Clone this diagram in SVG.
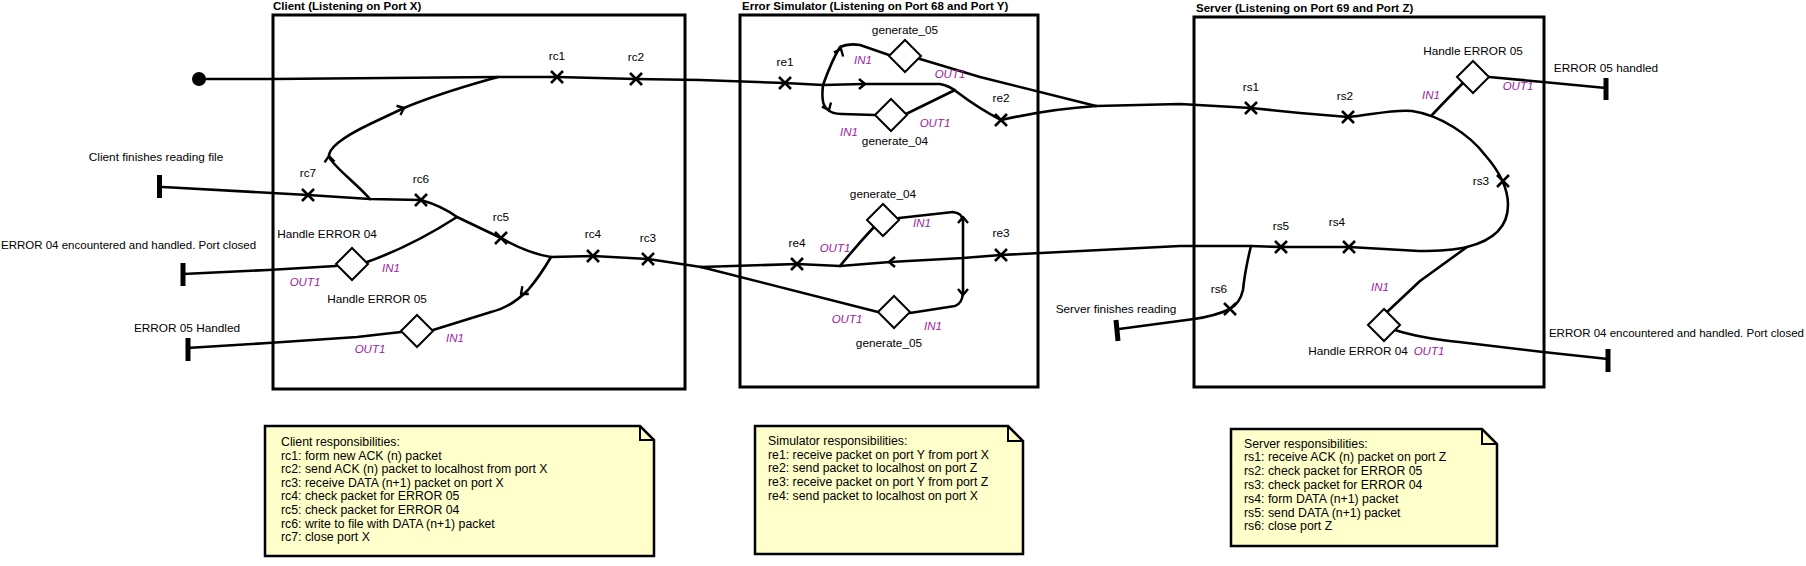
<svg xmlns="http://www.w3.org/2000/svg" xmlns:xlink="http://www.w3.org/1999/xlink" width="1806" height="566" viewBox="0 0 1806 566">
<style>
  .box{fill:none;stroke:#000;stroke-width:3}
  .title{font-family:"Liberation Sans",Arial,sans-serif;font-size:11.5px;font-weight:bold;fill:#000}
  .lbl{font-family:"Liberation Sans",Arial,sans-serif;font-size:11.8px;fill:#000}
  .long{font-size:11.5px}
  .port{font-family:"Liberation Sans",Arial,sans-serif;font-size:11.5px;font-style:italic;fill:#a020a0}
  .conn path{fill:none;stroke:#000;stroke-width:2.6;stroke-linejoin:round;stroke-linecap:round}
  .bar{stroke:#000;stroke-width:5}
  .note{fill:#ffffcc;stroke:#000;stroke-width:2.5}
  .fold{fill:none;stroke:#000;stroke-width:2}
  .ntext{font-family:"Liberation Sans",Arial,sans-serif;font-size:12.3px;fill:#000}
</style>
<defs>
  <path id="xm" d="M-6,-6 L6,6 M-6,6 L6,-6" fill="none" stroke="#000" stroke-width="2.6"/>
  <path id="chev" d="M-6,-5 L0,0 L-6,5" fill="none" stroke="#000" stroke-width="2.4" stroke-linejoin="round"/>
  <path id="dia" d="M-16,0 L0,-16 L16,0 L0,16 Z" fill="#fff" stroke="#000" stroke-width="2"/>
</defs>
<rect width="1806" height="566" fill="#fff"/>

<g id="client">
  <rect class="box" x="273" y="15" width="412" height="374"/>
  <text class="title" x="273" y="10">Client (Listening on Port X)</text>
</g>
<g id="errorsim">
  <rect class="box" x="740" y="15" width="298" height="372"/>
  <text class="title" x="742" y="10">Error Simulator (Listening on Port 68 and Port Y)</text>
</g>
<g id="server">
  <rect class="box" x="1194" y="17" width="350" height="370"/>
  <text class="title" x="1196" y="12">Server (Listening on Port 69 and Port Z)</text>
</g>

<g id="connectors" class="conn">
  <path d="M199,79 L273,79 L498,77 L557,77 L636,79 L700,80 L785,83 L823,85"/>
  <path d="M370,199 C355,182 335,168 329,157 C328,148 345,136 370,124 L404,108 C440,93 470,85 498,77"/>
  <path d="M163,187 L308,195 L370,199 L421,200"/>
  <path d="M421,200 Q442,206 457,217 L501,238 Q527,253 551,257 L593,256 L648,259 L701,267"/>
  <path d="M457,217 Q412,246 367,262"/>
  <path d="M336,266 L268,270 L183,274"/>
  <path d="M551,257 Q540,276 528,290 Q510,308 491,312 L433,330"/>
  <path d="M401,332 L357,337 L268,343 L187,348"/>
  <path d="M823,85 Q832,60 840,47 Q848,43 860,45 L889,55"/>
  <path d="M920,59 L980,77 L1096,106"/>
  <path d="M823,85 L863,84 L940,84 Q950,86 957,92 Q978,108 1001,120 Q1050,109 1096,106"/>
  <path d="M823,85 Q821,103 826,108 Q831,114 842,114 L875,115"/>
  <path d="M906,114 L955,90"/>
  <path d="M1096,106 L1180,104 L1251,108 L1300,113 L1348,117 C1370,115 1395,109 1412,111 C1440,115 1470,135 1485,155 C1500,172 1508,190 1508,205 C1508,225 1495,240 1467,247 C1450,251 1435,251 1419,251 L1349,247 L1281,247 L1251,246 L1180,246 L1001,255 L963,258 L890,262 L840,266 L797,264 L701,267"/>
  <path d="M874,227 Q858,244 840,266"/>
  <path d="M899,218 L953,212 Q963,213 963,222 L963,293 Q962,304 955,306 L910,313"/>
  <path d="M878,312 L701,267"/>
  <path d="M1251,246 Q1245,270 1243,290 Q1240,303 1230,309 Q1215,316 1194,319 L1119,329"/>
  <path d="M1432,115 Q1450,96 1463,83"/>
  <path d="M1489,77 L1543,82 L1606,88"/>
  <path d="M1467,247 L1420,281 L1387,312"/>
  <path d="M1395,330 Q1420,338 1459,342 L1543,352 L1608,359"/>
  <use xlink:href="#chev" transform="translate(404,108) rotate(-23)"/>
  <use xlink:href="#chev" transform="translate(329,156) rotate(-95)"/>
  <use xlink:href="#chev" transform="translate(841,49) rotate(-66)"/>
  <use xlink:href="#chev" transform="translate(865,84) rotate(0)"/>
  <use xlink:href="#chev" transform="translate(829,110) rotate(65)"/>
  <use xlink:href="#chev" transform="translate(889,262) rotate(180)"/>
  <use xlink:href="#chev" transform="translate(963,217) rotate(-90)"/>
  <use xlink:href="#chev" transform="translate(963,295) rotate(90)"/>
  <use xlink:href="#chev" transform="translate(521,294) rotate(140)"/>
</g>

<g id="start"><circle cx="199" cy="79" r="7" fill="#000"/></g>

<g id="bar-client-finish"><line class="bar" x1="159.5" y1="175" x2="159.5" y2="198"/>
  <text class="lbl" x="156" y="161" text-anchor="middle">Client finishes reading file</text></g>
<g id="bar-client-e04"><line class="bar" x1="183" y1="263" x2="183" y2="286"/>
  <text class="lbl long" x="1" y="249">ERROR 04 encountered and handled. Port closed</text></g>
<g id="bar-client-e05"><line class="bar" x1="188" y1="338" x2="188" y2="361"/>
  <text class="lbl" x="187" y="332" text-anchor="middle">ERROR 05 Handled</text></g>
<g id="bar-server-finish"><line class="bar" x1="1116" y1="320" x2="1118" y2="341"/>
  <text class="lbl" x="1116" y="313" text-anchor="middle">Server finishes reading</text></g>
<g id="bar-server-e05"><line class="bar" x1="1606" y1="78" x2="1606" y2="100"/>
  <text class="lbl" x="1606" y="72" text-anchor="middle">ERROR 05 handled</text></g>
<g id="bar-server-e04"><line class="bar" x1="1608" y1="349" x2="1608" y2="372"/>
  <text class="lbl long" x="1804" y="337" text-anchor="end">ERROR 04 encountered and handled. Port closed</text></g>

<g id="rc1"><use xlink:href="#xm" x="557" y="77"/><text class="lbl" x="557" y="60" text-anchor="middle">rc1</text></g>
<g id="rc2"><use xlink:href="#xm" x="636" y="79"/><text class="lbl" x="636" y="61" text-anchor="middle">rc2</text></g>
<g id="rc3"><use xlink:href="#xm" x="648" y="259"/><text class="lbl" x="648" y="242" text-anchor="middle">rc3</text></g>
<g id="rc4"><use xlink:href="#xm" x="593" y="256"/><text class="lbl" x="593" y="238" text-anchor="middle">rc4</text></g>
<g id="rc5"><use xlink:href="#xm" x="501" y="238"/><text class="lbl" x="501" y="221" text-anchor="middle">rc5</text></g>
<g id="rc6"><use xlink:href="#xm" x="421" y="200"/><text class="lbl" x="421" y="183" text-anchor="middle">rc6</text></g>
<g id="rc7"><use xlink:href="#xm" x="308" y="195"/><text class="lbl" x="308" y="177" text-anchor="middle">rc7</text></g>

<g id="c-handle04"><use xlink:href="#dia" x="352" y="264"/>
  <text class="lbl" x="327" y="238" text-anchor="middle">Handle ERROR 04</text>
  <text class="port" x="391" y="272" text-anchor="middle">IN1</text>
  <text class="port" x="305" y="286" text-anchor="middle">OUT1</text></g>
<g id="c-handle05"><use xlink:href="#dia" x="417" y="331"/>
  <text class="lbl" x="377" y="303" text-anchor="middle">Handle ERROR 05</text>
  <text class="port" x="455" y="342" text-anchor="middle">IN1</text>
  <text class="port" x="370" y="353" text-anchor="middle">OUT1</text></g>

<g id="re1"><use xlink:href="#xm" x="785" y="83"/><text class="lbl" x="785" y="66" text-anchor="middle">re1</text></g>
<g id="re2"><use xlink:href="#xm" x="1001" y="120"/><text class="lbl" x="1001" y="102" text-anchor="middle">re2</text></g>
<g id="re3"><use xlink:href="#xm" x="1001" y="255"/><text class="lbl" x="1001" y="237" text-anchor="middle">re3</text></g>
<g id="re4"><use xlink:href="#xm" x="797" y="264"/><text class="lbl" x="797" y="247" text-anchor="middle">re4</text></g>

<g id="gen05-top"><use xlink:href="#dia" x="905" y="56"/>
  <text class="lbl" x="905" y="34" text-anchor="middle">generate_05</text>
  <text class="port" x="863" y="64" text-anchor="middle">IN1</text>
  <text class="port" x="950" y="78" text-anchor="middle">OUT1</text></g>
<g id="gen04-top"><use xlink:href="#dia" x="891" y="115"/>
  <text class="lbl" x="895" y="145" text-anchor="middle">generate_04</text>
  <text class="port" x="849" y="136" text-anchor="middle">IN1</text>
  <text class="port" x="935" y="127" text-anchor="middle">OUT1</text></g>
<g id="gen04-bottom"><use xlink:href="#dia" x="883" y="220"/>
  <text class="lbl" x="883" y="198" text-anchor="middle">generate_04</text>
  <text class="port" x="922" y="227" text-anchor="middle">IN1</text>
  <text class="port" x="835" y="252" text-anchor="middle">OUT1</text></g>
<g id="gen05-bottom"><use xlink:href="#dia" x="894" y="312"/>
  <text class="lbl" x="889" y="347" text-anchor="middle">generate_05</text>
  <text class="port" x="847" y="323" text-anchor="middle">OUT1</text>
  <text class="port" x="933" y="330" text-anchor="middle">IN1</text></g>

<g id="rs1"><use xlink:href="#xm" x="1251" y="108"/><text class="lbl" x="1251" y="91" text-anchor="middle">rs1</text></g>
<g id="rs2"><use xlink:href="#xm" x="1348" y="117"/><text class="lbl" x="1345" y="100" text-anchor="middle">rs2</text></g>
<g id="rs3"><use xlink:href="#xm" x="1503" y="181"/><text class="lbl" x="1481" y="185" text-anchor="middle">rs3</text></g>
<g id="rs4"><use xlink:href="#xm" x="1349" y="247"/><text class="lbl" x="1337" y="226" text-anchor="middle">rs4</text></g>
<g id="rs5"><use xlink:href="#xm" x="1281" y="247"/><text class="lbl" x="1281" y="230" text-anchor="middle">rs5</text></g>
<g id="rs6"><use xlink:href="#xm" x="1230" y="309"/><text class="lbl" x="1219" y="293" text-anchor="middle">rs6</text></g>

<g id="s-handle05"><use xlink:href="#dia" x="1473" y="77"/>
  <text class="lbl" x="1473" y="55" text-anchor="middle">Handle ERROR 05</text>
  <text class="port" x="1431" y="99" text-anchor="middle">IN1</text>
  <text class="port" x="1518" y="90" text-anchor="middle">OUT1</text></g>
<g id="s-handle04"><use xlink:href="#dia" x="1384" y="325"/>
  <text class="lbl" x="1358" y="355" text-anchor="middle">Handle ERROR 04</text>
  <text class="port" x="1429" y="355" text-anchor="middle">OUT1</text>
  <text class="port" x="1380" y="291" text-anchor="middle">IN1</text></g>

<g id="note-client">
  <path class="note" d="M265,426 H640 L654,440 V556 H265 Z"/>
  <path class="fold" d="M640,426 V440 H654"/>
  <text class="ntext" x="281" y="446">Client responsibilities:</text>
  <text class="ntext" x="281" y="459.6">rc1: form new ACK (n) packet</text>
  <text class="ntext" x="281" y="473.2">rc2: send ACK (n) packet to localhost from port X</text>
  <text class="ntext" x="281" y="486.8">rc3: receive DATA (n+1) packet on port X</text>
  <text class="ntext" x="281" y="500.4">rc4: check packet for ERROR 05</text>
  <text class="ntext" x="281" y="514">rc5: check packet for ERROR 04</text>
  <text class="ntext" x="281" y="527.6">rc6: write to file with DATA (n+1) packet</text>
  <text class="ntext" x="281" y="541.2">rc7: close port X</text>
</g>
<g id="note-sim">
  <path class="note" d="M755,426 H1008 L1023,441 V554 H755 Z"/>
  <path class="fold" d="M1008,426 V441 H1023"/>
  <text class="ntext" x="768" y="445">Simulator responsibilities:</text>
  <text class="ntext" x="768" y="458.7">re1: receive packet on port Y from port X</text>
  <text class="ntext" x="768" y="472.4">re2: send packet to localhost on port Z</text>
  <text class="ntext" x="768" y="486.1">re3: receive packet on port Y from port Z</text>
  <text class="ntext" x="768" y="499.8">re4: send packet to localhost on port X</text>
</g>
<g id="note-server">
  <path class="note" d="M1231,429 H1482 L1497,444 V546 H1231 Z"/>
  <path class="fold" d="M1482,429 V444 H1497"/>
  <text class="ntext" x="1244" y="447.5">Server responsibilities:</text>
  <text class="ntext" x="1244" y="461.3">rs1: receive ACK (n) packet on port Z</text>
  <text class="ntext" x="1244" y="475.1">rs2: check packet for ERROR 05</text>
  <text class="ntext" x="1244" y="488.9">rs3: check packet for ERROR 04</text>
  <text class="ntext" x="1244" y="502.7">rs4: form DATA (n+1) packet</text>
  <text class="ntext" x="1244" y="516.5">rs5: send DATA (n+1) packet</text>
  <text class="ntext" x="1244" y="530.3">rs6: close port Z</text>
</g>
</svg>
